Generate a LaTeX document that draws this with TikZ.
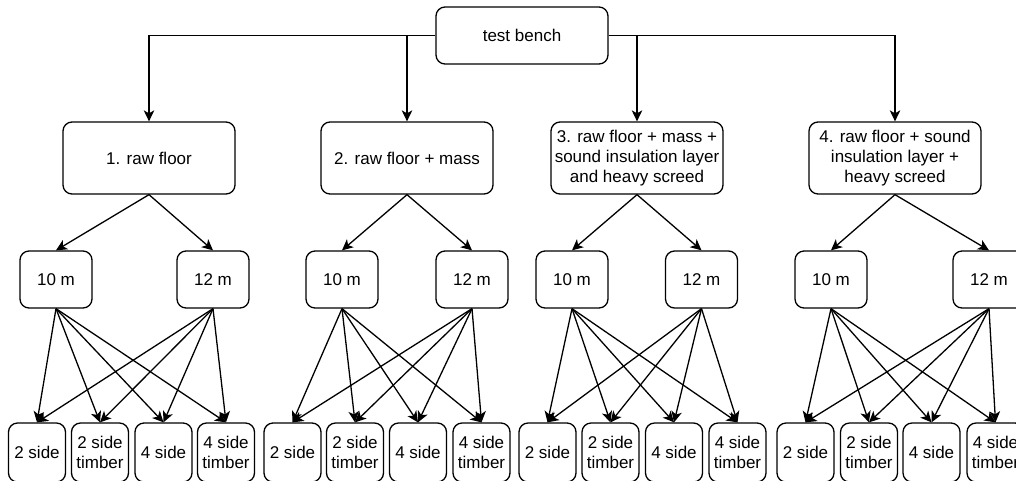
\documentclass[tikz,border=0pt]{standalone}
\usepackage{fontspec}
\setmainfont{Liberation Sans}
\usetikzlibrary{arrows.meta}
\begin{document}
\begin{tikzpicture}[x=1pt,y=-1pt,
  font=\fontsize{17}{20.4}\selectfont,
  rbox/.style={draw, line width=1.3pt, rounded corners=9pt, align=center, inner sep=0pt},
  topbox/.style={rbox, minimum width=172pt, minimum height=57pt},
  varbox/.style={rbox, minimum width=172pt, minimum height=72pt},
  lenbox/.style={rbox, minimum width=72pt, minimum height=57pt},
  leafbox/.style={rbox, minimum width=57pt, minimum height=59pt},
  arr/.style={line width=1.3pt, -{Stealth[length=11pt,width=10.5pt,inset=3pt]}}]
\useasboundingbox (0,0) rectangle (1016,480);

\node[topbox] (tb) at (522,35.5) {test bench};

\node[varbox] (b1) at (149,158) {1. raw floor};
\node[varbox] (b2) at (407,158) {2. raw floor + mass};
\node[varbox] (b3) at (637,158) {3. raw floor + mass +\\sound insulation layer\\and heavy screed};
\node[varbox] (b4) at (895,158) {4. raw floor + sound\\insulation layer +\\heavy screed};

\draw[arr] (tb.west) -| (b1.north);
\draw[arr] (tb.west) -| (b2.north);
\draw[arr] (tb.east) -| (b3.north);
\draw[arr] (tb.east) -| (b4.north);

\foreach \g/\ma/\mb/\la/\lb/\lc/\ld in {
  1/56/213/37/100/163.5/226,
  2/342/472/292.5/355/418/481.5,
  3/572/701.5/547.5/610.5/674/737.5,
  4/831/989/805.5/869/931.5/995.5}{
  \node[lenbox] (g\g a) at (\ma,279.5) {10 m};
  \node[lenbox] (g\g b) at (\mb,279.5) {12 m};
  \node[leafbox] (g\g l1) at (\la,452.5) {2 side};
  \node[leafbox] (g\g l2) at (\lb,452.5) {2 side\\timber};
  \node[leafbox] (g\g l3) at (\lc,452.5) {4 side};
  \node[leafbox] (g\g l4) at (\ld,452.5) {4 side\\timber};
  \draw[arr] (b\g.south) -- (g\g a.north);
  \draw[arr] (b\g.south) -- (g\g b.north);
  \foreach \k in {1,2,3,4}{
    \draw[arr] (g\g a.south) -- (g\g l\k.north);
    \draw[arr] (g\g b.south) -- (g\g l\k.north);
  }
}
\end{tikzpicture}
\end{document}
